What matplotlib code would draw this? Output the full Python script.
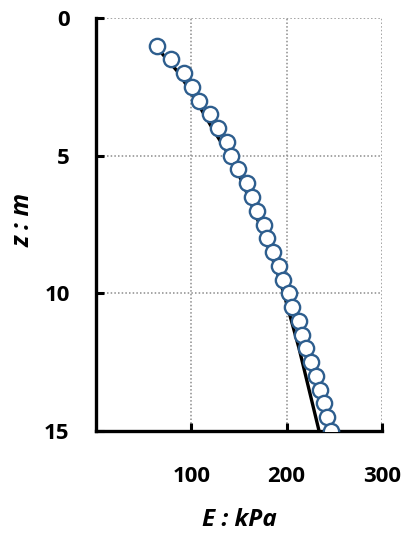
import matplotlib.pyplot as plt

# measured modulus profile (circles), every 0.5 m
z_obs = [1.0, 1.5, 2.0, 2.5, 3.0, 3.5, 4.0, 4.5, 5.0, 5.5, 6.0, 6.5, 7.0, 7.5,
         8.0, 8.5, 9.0, 9.5, 10.0, 10.5, 11.0, 11.5, 12.0, 12.5, 13.0, 13.5,
         14.0, 14.5, 15.0]
E_obs = [64, 79, 92, 101, 108, 120, 128, 137, 142, 149, 158, 164, 169, 176,
         179, 186, 192, 196, 202, 206, 213, 216, 220, 225, 231, 235,
         239, 242, 246]

# fitted profile (solid line)
z_fit = [1, 2, 3, 4, 5, 6, 7, 8, 9, 10, 11, 12, 13, 14, 15]
E_fit = [62, 87, 105, 122, 140, 154, 166, 177, 188, 197, 205, 213, 220, 227, 234]

plt.rcParams['font.family'] = ['Open Sans', 'DejaVu Sans']
plt.rcParams['font.weight'] = 'bold'

fig = plt.figure(figsize=(4.04, 5.34), dpi=100)
ax = fig.add_axes([96/404, 1-431/534, 286/404, 413/534])

ax.plot(E_fit, z_fit, color='black', lw=2.4, zorder=2)
ax.plot(E_obs, z_obs, 'o', ms=11, mfc='white', mec='#2E5E8E', mew=1.7,
        ls='none', zorder=3)

ax.set_xlim(0, 300)
ax.set_ylim(15, 0)
ax.set_xticks([100, 200, 300])
ax.set_yticks([0, 5, 10, 15])

ax.grid(True, color='#8c8c8c', ls=(0, (1, 1.4)), lw=1.1, zorder=0)
ax.set_axisbelow(True)

for s in ['top', 'right']:
    ax.spines[s].set_visible(False)
for s in ['left', 'bottom']:
    ax.spines[s].set_linewidth(2.4)

ax.tick_params(axis='x', direction='in', length=6, width=2.2, pad=25,
               labelsize=16)
ax.tick_params(axis='y', direction='in', length=6, width=2.2, pad=19,
               labelsize=16)

ax.set_xlabel('E : kPa', fontsize=17.5, fontstyle='italic', fontweight='bold')
ax.set_ylabel('z : m', fontsize=18, fontstyle='italic', fontweight='bold')
ax.xaxis.set_label_coords(0.5, -0.186)
ax.yaxis.set_label_coords(-0.21, 0.51)

fig.savefig('out.png', dpi=100)
